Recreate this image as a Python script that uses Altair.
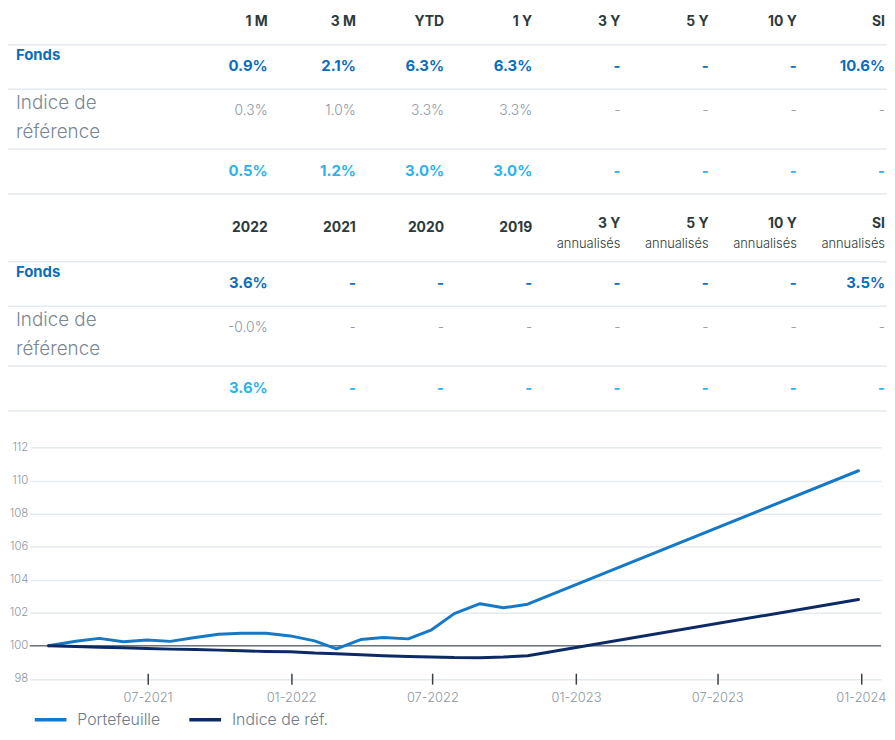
import altair as alt
import pandas as pd

# ---------------- data ----------------
perf_headers = ["1 M", "3 M", "YTD", "1 Y", "3 Y", "5 Y", "10 Y", "SI"]
perf_fonds = ["0.9%", "2.1%", "6.3%", "6.3%", "-", "-", "-", "10.6%"]
perf_indice = ["0.3%", "1.0%", "3.3%", "3.3%", "-", "-", "-", "-"]
perf_ecart = ["0.5%", "1.2%", "3.0%", "3.0%", "-", "-", "-", "-"]

cal_headers = ["2022", "2021", "2020", "2019", "3 Y", "5 Y", "10 Y", "SI"]
cal_subheaders = ["", "", "", "", "annualisés", "annualisés", "annualisés", "annualisés"]
cal_fonds = ["3.6%", "-", "-", "-", "-", "-", "-", "3.5%"]
cal_indice = ["-0.0%", "-", "-", "-", "-", "-", "-", "-"]
cal_ecart = ["3.6%", "-", "-", "-", "-", "-", "-", "-"]

row_fonds = "Fonds"
row_indice = ["Indice de", "référence"]

dates = ["2021-02-24", "2021-03-31", "2021-04-30", "2021-05-31", "2021-06-30",
         "2021-07-30", "2021-08-31", "2021-09-30", "2021-10-29", "2021-11-30",
         "2021-12-31", "2022-01-31", "2022-02-28", "2022-03-31", "2022-04-29",
         "2022-05-31", "2022-06-30", "2022-07-29", "2022-08-31", "2022-09-30",
         "2022-10-31", "2023-12-29"]
portefeuille = [100.0, 100.28, 100.45, 100.25, 100.35, 100.27, 100.5, 100.7,
                100.76, 100.76, 100.6, 100.3, 99.82, 100.38, 100.5, 100.42,
                100.97, 101.95, 102.55, 102.3, 102.52, 110.6]
indice_ref = [100.0, 99.96, 99.92, 99.88, 99.84, 99.8, 99.78, 99.74, 99.7,
              99.66, 99.64, 99.56, 99.52, 99.46, 99.4, 99.36, 99.33, 99.29,
              99.28, 99.32, 99.4, 102.8]
series_names = ["Portefeuille", "Indice de réf."]
baseline_value = [100]
y_ticks = [98, 100, 102, 104, 106, 108, 110, 112]
x_ticks = [(2021, 7), (2022, 1), (2022, 7), (2023, 1), (2023, 7), (2024, 1)]

# ---------------- layout / style ----------------
FONT = "Inter"
PLOT_W, PLOT_H = 859, 245
PAD = {"left": 22, "top": 437, "right": 6, "bottom": 42}
OX, OY = 8 + PAD["left"], 8 + PAD["top"]  # page position of plot origin

COL_RIGHT0, COL_STEP = 270, 89
LABEL_X = 16
RULE_X1, RULE_X2 = 8, 895
TABLE_OFFSETS = [0, 219]

C_HEAD = "#2d3a3b"
C_FONDS = "#0b6ebc"
C_ECART = "#2bb3ef"
C_GRAY = "#8d969f"
C_LABEL = "#7b8794"
C_RULE = "#e4eaf0"
C_LINE1 = "#1679c5"
C_LINE2 = "#0c2a63"


def px(x):
    return x - OX


def py(y):
    return y - OY


head_rows, sub_rows, fonds_rows, ind_rows, ecart_rows = [], [], [], [], []
flabel_rows, ilabel_rows, rule_rows = [], [], []

tables = [
    (perf_headers, ["" for _ in perf_headers], perf_fonds, perf_indice, perf_ecart),
    (cal_headers, cal_subheaders, cal_fonds, cal_indice, cal_ecart),
]
for k, ((heads, subs, fv, iv, ev), off) in enumerate(zip(tables, TABLE_OFFSETS)):
    for i in range(len(heads)):
        x = px(COL_RIGHT0 + COL_STEP * i)
        if subs[i]:
            head_rows.append({"px": x, "py": py(4 + off), "t": heads[i]})
            sub_rows.append({"px": x, "py": py(23.7 + off), "t": subs[i]})
        else:
            hy = 19 if k == 0 else 7.7
            head_rows.append({"px": x, "py": py(hy + off), "t": heads[i]})
        fonds_rows.append({"px": x, "py": py(63.3 + off), "t": fv[i]})
        ind_rows.append({"px": x, "py": py(108.8 + off), "t": iv[i]})
        ecart_rows.append({"px": x, "py": py(169.5 + off), "t": ev[i]})
    flabel_rows.append({"px": px(LABEL_X), "py": py(52.5 + off), "t": row_fonds})
    for j, line in enumerate(row_indice):
        ilabel_rows.append({"px": px(LABEL_X), "py": py(101 + 28.5 * j + off), "t": line})
    for ry in [41.7, 86.7, 147, 192.3]:
        rule_rows.append({"x1": px(RULE_X1), "x2": px(RULE_X2), "py": py(ry + off)})


def text_layer(rows, size, weight, color, align="right"):
    return alt.Chart(pd.DataFrame(rows)).mark_text(
        align=align, baseline="middle", font=FONT, fontSize=size,
        fontWeight=weight, color=color
    ).encode(
        x=alt.X("px:Q", scale=None, axis=None),
        y=alt.Y("py:Q", scale=None, axis=None),
        text="t:N",
    )


table_rules = alt.Chart(pd.DataFrame(rule_rows)).mark_rule(
    color=C_RULE, strokeWidth=1.5
).encode(
    x=alt.X("x1:Q", scale=None, axis=None),
    x2="x2:Q",
    y=alt.Y("py:Q", scale=None, axis=None),
)

table_layers = [
    table_rules,
    text_layer(head_rows, 14, 700, C_HEAD),
    text_layer(sub_rows, 13, 300, C_HEAD),
    text_layer(fonds_rows, 15, 700, C_FONDS),
    text_layer(ind_rows, 14, 300, C_GRAY),
    text_layer(ecart_rows, 15, 700, C_ECART),
    text_layer(flabel_rows, 15, 700, C_FONDS, "left"),
    text_layer(ilabel_rows, 19, 300, C_LABEL, "left"),
]

# ---------------- line chart ----------------
line_df = pd.DataFrame({
    "date": dates * 2,
    "value": portefeuille + indice_ref,
    "serie": [series_names[0]] * len(dates) + [series_names[1]] * len(dates),
})

x_scale = alt.Scale(type="utc", nice=False,
                    domain=[alt.DateTime(year=2021, month=1, date=31, utc=True),
                            alt.DateTime(year=2024, month=1, date=27, utc=True)])
y_scale = alt.Scale(domain=[97.5, 112.2], nice=False, zero=False)

y_axis = alt.Axis(
    values=y_ticks, title=None, domain=False, ticks=False, grid=True,
    labelOverlap=False,
    gridColor=C_RULE, gridWidth=1.5, labelPadding=2, labelFont=FONT,
    labelFontSize=11.5, labelFontWeight=300, labelColor=C_GRAY,
)

x_enc = alt.X(
    "date:T",
    scale=x_scale,
    axis=alt.Axis(
        values=[alt.DateTime(year=y, month=m, date=1, utc=True) for y, m in x_ticks],
        labelExpr="utcFormat(datum.value, '%m-%Y')",
        title=None, grid=False, domain=False, labelOverlap=False,
        offset=-14, tickSize=11, tickColor="#3a3f44", tickWidth=1.5,
        labelPadding=8, labelFont=FONT, labelFontSize=13, labelFontWeight=300,
        labelColor=C_GRAY,
    ),
)

lines = alt.Chart(line_df).mark_line(
    strokeWidth=3, interpolate="linear", strokeCap="round", strokeJoin="round"
).encode(
    x=x_enc,
    y=alt.Y("value:Q", scale=y_scale, axis=y_axis),
    color=alt.Color(
        "serie:N",
        sort=series_names,
        scale=alt.Scale(domain=series_names, range=[C_LINE1, C_LINE2]),
        legend=alt.Legend(
            orient="none", legendX=3, legendY=260, direction="horizontal",
            title=None, symbolType="stroke", symbolSize=1024,
            symbolStrokeWidth=3.5, labelFont=FONT, labelFontSize=16,
            labelFontWeight=300, labelColor="#6e7b89", columnPadding=22,
            labelOffset=9, padding=0,
        ),
    ),
)

base_rule = alt.Chart(pd.DataFrame({"value": baseline_value})).mark_rule(
    color="#6c757d", strokeWidth=1.5
).encode(y=alt.Y("value:Q", scale=y_scale, axis=y_axis))

line_part = alt.layer(base_rule, lines)

chart = alt.layer(line_part, *table_layers).resolve_scale(
    x="independent", y="independent"
).resolve_axis(
    x="independent", y="independent"
).properties(
    width=PLOT_W, height=PLOT_H,
    autosize=alt.AutoSizeParams(type="none"),
    padding=PAD,
).configure_view(strokeWidth=0)

chart.save("out.html", embed_options={"renderer": "svg", "actions": False})
